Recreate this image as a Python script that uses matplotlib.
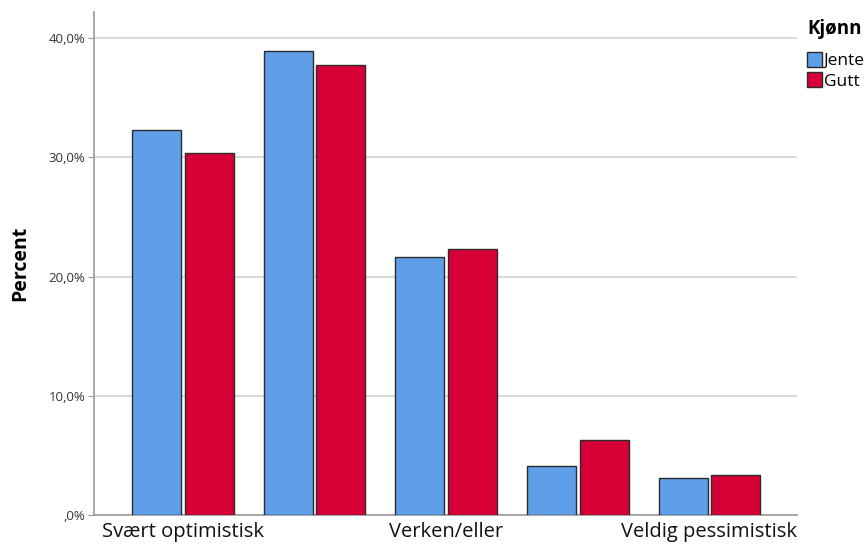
import matplotlib
matplotlib.use("Agg")
import matplotlib.pyplot as plt
from matplotlib.ticker import FuncFormatter
import numpy as np

# svarkategorier (bare hver andre vises som tekst i originalen)
tick_labels = ["Svært optimistisk", "", "Verken/eller", "", "Veldig pessimistisk"]
groups = ["Jente", "Gutt"]
jente = [32.3, 38.9, 21.65, 4.1, 3.1]
gutt = [30.4, 37.75, 22.35, 6.3, 3.35]

BLUE = "#5f9fe8"
RED = "#d70036"

plt.rcParams["font.family"] = ["Open Sans", "DejaVu Sans"]

fig = plt.figure(figsize=(8.67, 5.46), dpi=100)
ax = fig.add_axes([0.1084, 0.0568, 0.8109, 0.9212])

x = np.arange(len(tick_labels))
w = 0.372
ax.bar(x - 0.2, jente, w, color=BLUE, edgecolor="#2b2b2b", linewidth=1.0,
       label=groups[0], zorder=3)
ax.bar(x + 0.2, gutt, w, color=RED, edgecolor="#2b2b2b", linewidth=1.0,
       label=groups[1], zorder=3)

ax.set_xlim(-0.675, 4.665)
ax.set_ylim(0, 42.2)
ax.set_yticks([0, 10, 20, 30, 40])


def pct(v, pos):
    s = f"{v:.1f}".replace(".", ",")
    if s.startswith("0"):
        s = s[1:]
    return s + "%"


ax.yaxis.set_major_formatter(FuncFormatter(pct))
ax.grid(axis="y", color="#d9d9d9", linewidth=1.5, zorder=0)
ax.set_xticks(x)
ax.set_xticklabels(tick_labels, fontsize=14.5, color="#111111")
ax.tick_params(axis="x", length=0, pad=5)
ax.tick_params(axis="y", length=4, color="#999999", labelsize=9.5,
               labelcolor="#333333", pad=2)

for side in ["top", "right"]:
    ax.spines[side].set_visible(False)
for side in ["left", "bottom"]:
    ax.spines[side].set_color("#999999")
    ax.spines[side].set_linewidth(1.2)

ax.set_ylabel("Percent", fontsize=14, fontweight="bold", labelpad=13)

leg = ax.legend(loc="upper left", bbox_to_anchor=(0.931, 0.965),
                bbox_transform=fig.transFigure, frameon=False,
                title="Kjønn", fontsize=12.5, handlelength=0.85,
                handleheight=1.0, handletextpad=0.1, labelspacing=0.15,
                borderaxespad=0, borderpad=0)
leg.get_title().set_fontweight("bold")
leg.get_title().set_fontsize(13.5)
leg._legend_box.align = "left"
leg._legend_box.sep = 9

fig.savefig("out.png", dpi=100)
